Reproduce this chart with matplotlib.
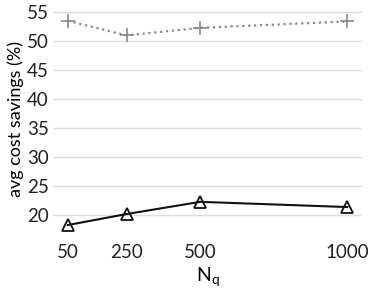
import matplotlib.pyplot as plt

nq = [50, 250, 500, 1000]
savings_upper = [53.5, 51.0, 52.3, 53.4]
savings_lower = [18.3, 20.2, 22.3, 21.4]
yticks = [20, 25, 30, 35, 40, 45, 50, 55]

plt.rcParams['font.family'] = ['Lato', 'DejaVu Sans']

fig = plt.figure(figsize=(3.74, 2.9), dpi=100)
ax = fig.add_axes([0.142, 0.198, 0.826, 0.780])

ax.plot(nq, savings_upper, color="#888888", linestyle=":", linewidth=1.6,
        marker="+", markersize=10, markeredgewidth=1.2)
ax.plot(nq, savings_lower, color="#111111", linestyle="-", linewidth=1.5,
        marker="^", markersize=9, markerfacecolor="none", markeredgewidth=1.3)

ax.set_xlim(0, 1050)
ax.set_ylim(17, 56)
ax.set_xticks(nq)
ax.set_yticks(yticks)
ax.tick_params(length=0, labelsize=13.5, colors="#222222")
ax.tick_params(axis="x", pad=8)
ax.tick_params(axis="y", pad=3)
ax.grid(axis="y", color="#dddddd", linewidth=1)
ax.set_axisbelow(True)
for s in ax.spines.values():
    s.set_visible(False)

ax.set_xlabel("N$_\\mathregular{q}$", fontsize=14, labelpad=4)
ax.set_ylabel("avg cost savings (%)", fontsize=13, labelpad=2)

fig.savefig("out.png", dpi=100)
